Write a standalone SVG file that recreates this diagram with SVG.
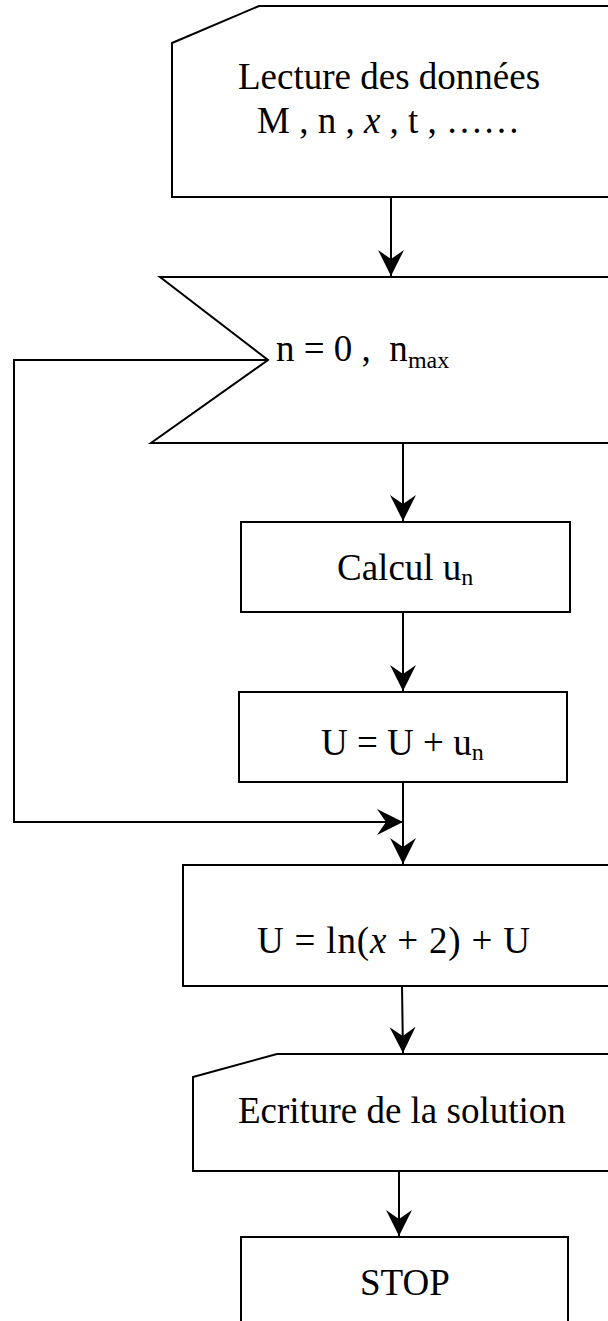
<svg xmlns="http://www.w3.org/2000/svg" width="608" height="1321" viewBox="0 0 608 1321">
<style>
.shape{fill:#fff;stroke:#000;stroke-width:2}
.line{fill:none;stroke:#000;stroke-width:2}
.t{font-family:"Liberation Serif","Times New Roman",serif;font-size:37px;fill:#000}
.sub{font-size:24px}
.it{font-style:italic}
</style>
<defs>
<marker id="arr" viewBox="-27 -14 28 28" markerWidth="28" markerHeight="28" refX="0" refY="0" orient="auto" markerUnits="userSpaceOnUse">
<path d="M0,0 L-26,-13 L-17,0 L-26,13 Z" fill="#000"/>
</marker>
</defs>
<rect width="608" height="1321" fill="#fff"/>
<g id="connectors">
<line class="line" x1="391" y1="197" x2="391" y2="276" marker-end="url(#arr)"/>
<line class="line" x1="403" y1="443" x2="403" y2="521" marker-end="url(#arr)"/>
<line class="line" x1="403" y1="612" x2="403" y2="691" marker-end="url(#arr)"/>
<line class="line" x1="403" y1="782" x2="403" y2="864" marker-end="url(#arr)"/>
<polyline class="line" points="268,360 14,360 14,822 403,822" marker-end="url(#arr)"/>
<line class="line" x1="402" y1="986" x2="403" y2="1053" marker-end="url(#arr)"/>
<line class="line" x1="399" y1="1171" x2="399" y2="1236" marker-end="url(#arr)"/>
</g>
<g id="lecture">
<polygon class="shape" points="172,43 259,6 615,6 615,197 172,197"/>
<text class="t" x="238" y="89">Lecture des données</text>
<text class="t" x="257" y="133">M , n , <tspan class="it">x</tspan> , t , ……</text>
</g>
<g id="boucle">
<polygon class="shape" points="160,277 615,277 615,443 151,443 268,360"/>
<text class="t" x="276" y="361">n = 0 ,&#160;&#160;n<tspan class="sub" dy="7">max</tspan></text>
</g>
<g id="calcul">
<rect class="shape" x="241" y="522" width="329" height="90"/>
<text class="t" x="337" y="580">Calcul u<tspan class="sub" dy="5">n</tspan></text>
</g>
<g id="somme">
<rect class="shape" x="239" y="692" width="328" height="90"/>
<text class="t" x="321" y="755">U = U + u<tspan class="sub" dy="5">n</tspan></text>
</g>
<g id="log">
<rect class="shape" x="183" y="865" width="432" height="121"/>
<text class="t" x="257" y="953" font-size="38" textLength="273" lengthAdjust="spacing">U = ln(<tspan class="it">x</tspan> + 2) + U</text>
</g>
<g id="ecriture">
<polygon class="shape" points="193,1077 277,1054 615,1054 615,1171 193,1171"/>
<text class="t" x="238" y="1123">Ecriture de la solution</text>
</g>
<g id="stop">
<rect class="shape" x="241" y="1237" width="327" height="100"/>
<text class="t" x="360" y="1295">STOP</text>
</g>
</svg>
